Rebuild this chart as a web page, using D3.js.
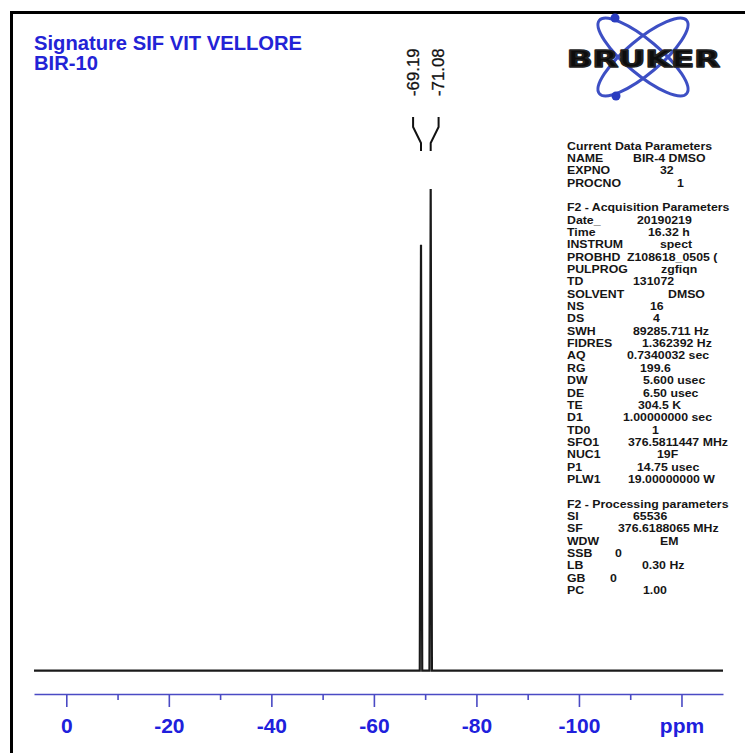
<!DOCTYPE html>
<html lang="en">
<head>
<meta charset="UTF-8">
<title>BIR-10 19F</title>
<style>
    body { margin: 0; background: #fff; }
    svg { display: block; font-family: "Liberation Sans", Arial, sans-serif; }
    .title { fill: #2323d6; font-weight: bold; font-size: 20.2px; }
    .param { fill: #151515; font-weight: bold; font-size: 10.9px; }
    .axis path, .axis line { stroke: #4a4ac4; stroke-width: 1.6; }
    .axis text { fill: #2020dc; font-weight: bold; font-size: 21px; font-family: "Liberation Sans", Arial, sans-serif; }
</style>
</head>
<body>
<div id="chart"></div>
<script src="https://cdn.jsdelivr.net/npm/d3@7"></script>
<script>

var width = 745,
    height = 753;

// ---- data ----
var titleLines = ["Signature SIF VIT VELLORE", "BIR-10"];

var peakPpm = [-69.19, -71.08];
var peakLabels = ["-69.19", "-71.08"];

// spectrum vertices: [ppm, relative intensity]
var spectrum = [
    [6.3, 0], [-68.95, 0], [-69.19, 0.884], [-69.43, 0],
    [-70.84, 0], [-71.08, 1.0], [-71.32, 0], [-128.1, 0]
];

var majorTicks = [0, -20, -40, -60, -80, -100, -120];
var tickLabels = ["0", "-20", "-40", "-60", "-80", "-100", "ppm"];
var minorTicks = [-10, -30, -50, -70, -90, -110];

var paramRows = [
    ["Current Data Parameters", ""],
    ["NAME", "BIR-4 DMSO"],
    ["EXPNO", "32"],
    ["PROCNO", "1"],
    ["", ""],
    ["F2 - Acquisition Parameters", ""],
    ["Date_", "20190219"],
    ["Time", "16.32 h"],
    ["INSTRUM", "spect"],
    ["PROBHD", "Z108618_0505 ("],
    ["PULPROG", "zgfiqn"],
    ["TD", "131072"],
    ["SOLVENT", "DMSO"],
    ["NS", "16"],
    ["DS", "4"],
    ["SWH", "89285.711 Hz"],
    ["FIDRES", "1.362392 Hz"],
    ["AQ", "0.7340032 sec"],
    ["RG", "199.6"],
    ["DW", "5.600 usec"],
    ["DE", "6.50 usec"],
    ["TE", "304.5 K"],
    ["D1", "1.00000000 sec"],
    ["TD0", "1"],
    ["SFO1", "376.5811447 MHz"],
    ["NUC1", "19F"],
    ["P1", "14.75 usec"],
    ["PLW1", "19.00000000 W"],
    ["", ""],
    ["F2 - Processing parameters", ""],
    ["SI", "65536"],
    ["SF", "376.6188065 MHz"],
    ["WDW", "EM"],
    ["SSB", "0"],
    ["LB", "0.30 Hz"],
    ["GB", "0"],
    ["PC", "1.00"]
];

// layout: left edge of each value in the parameter block
var valueX = [0, 633, 660, 677, 0, 0, 637, 648, 660, 627, 661, 633, 668, 650, 653,
    633, 642, 627, 640, 643, 643, 638, 623, 652, 628, 657, 637, 628, 0, 0,
    633, 618, 660, 615, 642, 610, 643];

// ---- chart ----
var svg = d3.select("#chart").append("svg")
    .attr("width", width)
    .attr("height", height);

// frame
svg.append("line").attr("x1", 10).attr("x2", width).attr("y1", 12.5).attr("y2", 12.5)
    .attr("stroke", "#000").attr("stroke-width", 3);
svg.append("line").attr("x1", 11.5).attr("x2", 11.5).attr("y1", 11).attr("y2", height)
    .attr("stroke", "#000").attr("stroke-width", 3);

// title
svg.append("g").selectAll("text")
    .data(titleLines)
    .enter().append("text")
    .attr("class", "title")
    .attr("x", 34)
    .attr("y", function(d, i) { return 49.5 + i * 20.5; })
    .text(function(d) { return d; });

var x = d3.scaleLinear().domain([6.3, -128.1]).range([34, 723]);
var y = d3.scaleLinear().domain([0, 1]).range([670.7, 189]);

// spectrum
var line = d3.line().x(function(d) { return x(d[0]); }).y(function(d) { return y(d[1]); });
svg.append("path")
    .datum(spectrum)
    .attr("d", line)
    .attr("fill", "none")
    .attr("stroke", "#1a1a1a")
    .attr("stroke-width", 2.2);

// peak labels
var mid = d3.mean(peakPpm, function(d) { return x(d); });
var labels = svg.append("g").selectAll("g")
    .data(peakPpm)
    .enter().append("g");

labels.append("path")
    .attr("d", function(d, i) {
        var lx = mid + (i - 0.5) * 25.5;
        return d3.line()([[lx, 117], [lx, 127], [x(d), 143], [x(d), 151]]);
    })
    .attr("fill", "none")
    .attr("stroke", "#111")
    .attr("stroke-width", 2);

labels.append("text")
    .attr("transform", function(d, i) {
        return "translate(" + (mid + (i - 0.5) * 25.5) + ",96) rotate(-90)";
    })
    .attr("dy", "0.35em")
    .attr("font-size", 16.8)
    .attr("fill", "#111")
    .attr("stroke", "#111")
    .attr("stroke-width", 0.3)
    .text(function(d, i) { return peakLabels[i]; });

// axis
var axisY = 694;
var axis = svg.append("g")
    .attr("class", "axis")
    .attr("transform", "translate(0," + axisY + ")")
    .call(d3.axisBottom(x)
        .tickValues(majorTicks)
        .tickFormat(function(d, i) { return tickLabels[i]; })
        .tickSize(13)
        .tickSizeOuter(0));
axis.selectAll("text").attr("y", 39).attr("dy", null);

svg.append("g")
    .attr("class", "axis")
    .attr("transform", "translate(0," + axisY + ")")
    .call(d3.axisBottom(x).tickValues(minorTicks).tickFormat("").tickSize(6))
    .select(".domain").remove();

// logo
var logo = svg.append("g");
var cx = 643, cy = 57, rx = 57, ry = 17;
[40, -40].forEach(function(a) {
    logo.append("ellipse")
        .attr("cx", cx).attr("cy", cy).attr("rx", rx).attr("ry", ry)
        .attr("transform", "rotate(" + a + "," + cx + "," + cy + ")")
        .attr("fill", "none")
        .attr("stroke", "#3d4fc4")
        .attr("stroke-width", 3);
});
logo.append("circle").attr("cx", 615).attr("cy", 18).attr("r", 4.5).attr("fill", "#2a3cc0");
logo.append("circle").attr("cx", 616).attr("cy", 96).attr("r", 4.5).attr("fill", "#2a3cc0");
logo.append("text")
    .attr("x", 567).attr("y", 67)
    .attr("font-family", "DejaVu Sans")
    .attr("font-weight", 900)
    .attr("font-size", 23)
    .attr("textLength", 153)
    .attr("lengthAdjust", "spacingAndGlyphs")
    .attr("fill", "#0d0d0d")
    .attr("stroke", "#222")
    .attr("stroke-width", 1.6)
    .attr("stroke-linejoin", "round")
    .text("BRUKER");

// parameter block (text is stretched a little horizontally, as in the plot)
var params = svg.append("g").selectAll("g")
    .data(paramRows)
    .enter().append("g")
    .attr("transform", function(d, i) { return "translate(0," + (149.5 + i * 12.35) + ")"; });

params.append("text")
    .attr("class", "param")
    .attr("transform", "translate(567,0) scale(1.13,1)")
    .text(function(d) { return d[0]; });

params.append("text")
    .attr("class", "param")
    .attr("transform", function(d, i) { return "translate(" + valueX[i] + ",0) scale(1.13,1)"; })
    .text(function(d) { return d[1]; });

</script>
</body>
</html>
